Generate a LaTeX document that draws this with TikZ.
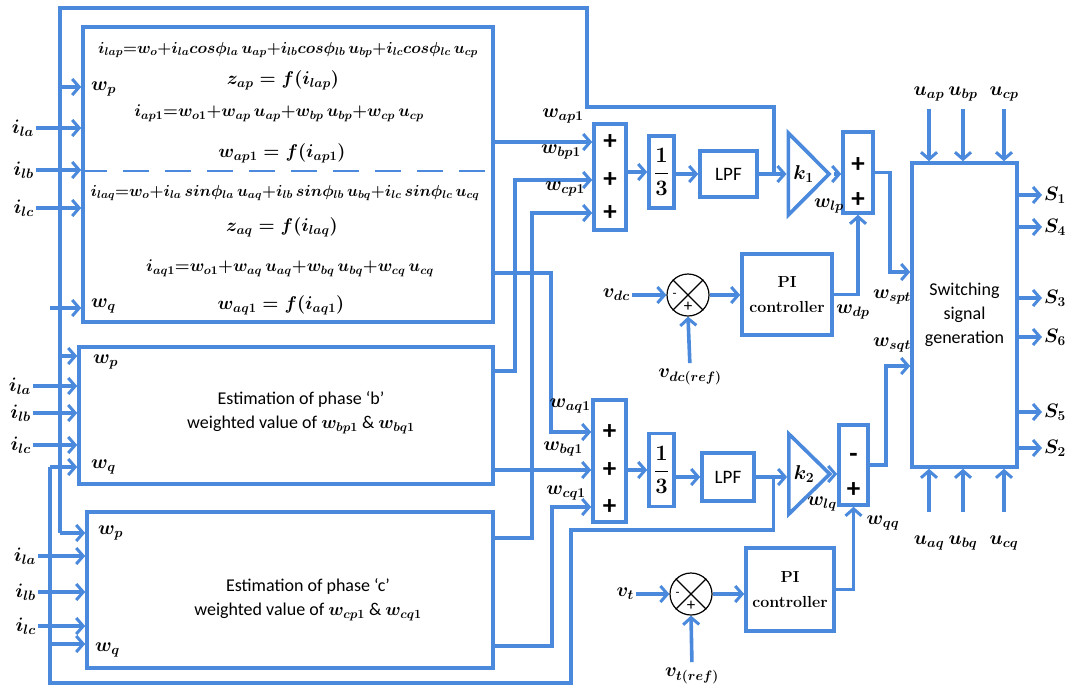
\RequirePackage{fix-cm}
\documentclass[tikz,border=0pt]{standalone}
\usepackage{amsmath}
\usepackage{fontspec}
\setsansfont{Carlito}
\usepackage{tikz}
\usetikzlibrary{calc,arrows.meta,positioning,shapes.geometric}
\definecolor{lblue}{HTML}{4A89DC}
\tikzset{
  wire/.style={draw=lblue,line width=3.6pt},
  ar/.style={wire,-{Straight Barb[length=7pt,width=16pt,line width=3pt]}},
  blk/.style={draw=lblue,line width=3.6pt,inner sep=0pt},
  eq/.style={font=\fontsize{16}{19}\selectfont\boldmath,inner sep=1pt},
  eqm/.style={font=\fontsize{17}{20}\selectfont\boldmath,inner sep=1pt},
  eqb/.style={font=\fontsize{18.5}{21}\selectfont\boldmath,inner sep=1pt},
  lbl/.style={font=\fontsize{19.5}{22}\selectfont\boldmath,inner sep=2pt},
  txt/.style={font=\sffamily\fontsize{18}{24}\selectfont,align=center},
  sgn/.style={font=\sffamily\bfseries\fontsize{27}{27}\selectfont,inner sep=0pt},
  frc/.style={blk,font=\fontsize{22}{24}\selectfont\boldmath},
  pibox/.style={blk,font=\rmfamily\bfseries\fontsize{16}{25}\selectfont,align=center},
  amp/.style={blk,isosceles triangle,isosceles triangle stretches,font=\fontsize{20}{22}\selectfont\boldmath},
  summer/.style={circle,draw=black,line width=1.2pt,minimum size=42pt,inner sep=0pt}
}
\begin{document}
\begin{tikzpicture}[x=1pt,y=-1pt]
\useasboundingbox (0,0) rectangle (1072,689);

% estimation blocks
\node[blk,minimum width=410pt,minimum height=295pt] (boxA) at (288,174.5) {};
\node[blk,minimum width=414pt,minimum height=137pt] (boxB) at (286,415.5) {};
\node[blk,minimum width=406pt,minimum height=156pt] (boxC) at (290,590) {};
\draw[lblue,line width=2pt,dash pattern=on 26pt off 16pt] (boxA.west |- 0,171) -- (boxA.east |- 0,171);

\node[eq] (eqA1) at (288,50) {$i_{lap}{=}w_o{+}i_{la}cos\phi_{la}\,u_{ap}{+}i_{lb}cos\phi_{lb}\,u_{bp}{+}i_{lc}cos\phi_{lc}\,u_{cp}$};
\node[eqb] (eqA2) at (283,80) {$z_{ap}=f(i_{lap})$};
\node[eqm] (eqA3) at (279,113) {$i_{ap1}{=}w_{o1}{+}w_{ap}\,u_{ap}{+}w_{bp}\,u_{bp}{+}w_{cp}\,u_{cp}$};
\node[eqb] (eqA4) at (282,153) {$w_{ap1}=f(i_{ap1})$};
\node[eq] (eqA5) at (285,193) {$i_{laq}{=}w_o{+}i_{la}\,sin\phi_{la}\,u_{aq}{+}i_{lb}\,sin\phi_{lb}\,u_{bq}{+}i_{lc}\,sin\phi_{lc}\,u_{cq}$};
\node[eqb] (eqA6) at (282,227) {$z_{aq}=f(i_{laq})$};
\node[eqm] (eqA7) at (290,268) {$i_{aq1}{=}w_{o1}{+}w_{aq}\,u_{aq}{+}w_{bq}\,u_{bq}{+}w_{cq}\,u_{cq}$};
\node[eqb] (eqA8) at (281,305) {$w_{aq1}=f(i_{aq1})$};

\node[txt] (estB) at (301,413) {Estimation of phase ‘b’\\weighted value of $\boldsymbol{w_{bp1}}$ \& $\boldsymbol{w_{bq1}}$};
\node[txt] (estC) at (308,600) {Estimation of phase ‘c’\\weighted value of $\boldsymbol{w_{cp1}}$ \& $\boldsymbol{w_{cq1}}$};

\node[lbl,anchor=west] (wpA) at (89,89) {$w_p$};
\node[lbl,anchor=west] (wqA) at (89,306) {$w_q$};
\node[lbl,anchor=west] (wpB) at (91,362) {$w_p$};
\node[lbl,anchor=west] (wqB) at (89,467) {$w_q$};
\node[lbl,anchor=west] (wpC) at (96,533) {$w_p$};
\node[lbl,anchor=west] (wqC) at (93,650) {$w_q$};

% load currents
\foreach \bx/\ya/\yb/\yc/\xs in {boxA/128/170/208/36,boxB/386/413/445/33,boxC/556/592/626/38}{
  \node[lbl,anchor=east] (ila\bx) at (\xs,\ya) {$i_{la}$};
  \node[lbl,anchor=east] (ilb\bx) at (\xs,\yb) {$i_{lb}$};
  \node[lbl,anchor=east] (ilc\bx) at (\xs,\yc) {$i_{lc}$};
  \foreach \s in {ila,ilb,ilc}
    \draw[ar] (\s\bx.east) -- (\s\bx.east -| \bx.west);
}

% p chain
\node[blk,minimum width=32pt,minimum height=106pt] (sum1) at (610,177) {};
\foreach \yy [count=\n] in {142,180,213} \node[sgn] (p1\n) at (sum1 |- 0,\yy) {+};
\node[frc,minimum width=25pt,minimum height=72pt] (thr1) at (661.5,172) {$\dfrac{1}{3}$};
\node[blk,minimum width=57pt,minimum height=46pt,font=\sffamily\fontsize{19}{20}\selectfont] (lpf1) at (728.5,174) {LPF};
\node[amp,minimum width=82pt,minimum height=37pt] (k1) at (803.5,174) {$k_1$};
\node[blk,minimum width=30pt,minimum height=81pt] (sum3) at (858,172.5) {};
\foreach \yy [count=\n] in {165,200} \node[sgn] (p3\n) at (sum3 |- 0,\yy) {+};
\node[pibox,minimum width=90pt,minimum height=81pt] (pi1) at (787,294.5) {PI\\controller};
\node[summer] (cs1) at (688,295) {};

% q chain
\node[blk,minimum width=33pt,minimum height=122pt] (sum2) at (609.5,461) {};
\foreach \yy [count=\n] in {432,470,507} \node[sgn] (p2\n) at (sum2 |- 0,\yy) {+};
\node[frc,minimum width=25pt,minimum height=73pt] (thr2) at (661.5,470) {$\dfrac{1}{3}$};
\node[blk,minimum width=52pt,minimum height=48pt,font=\sffamily\fontsize{19}{20}\selectfont] (lpf2) at (728,477) {LPF};
\node[amp,minimum width=80pt,minimum height=36pt] (k2) at (804,474) {$k_2$};
\node[blk,minimum width=29pt,minimum height=80pt] (sum4) at (853.5,465) {};
\node[sgn] (m41) at (sum4 |- 0,458) {-};
\node[sgn] (p42) at (sum4 |- 0,490) {+};
\node[pibox,minimum width=88pt,minimum height=83pt] (pi2) at (790,589.5) {PI\\controller};
\node[summer] (cs2) at (691,594) {};

\foreach \c in {cs1,cs2}{
  \draw[line width=1.2pt] (\c.north west) -- (\c.south east) (\c.north east) -- (\c.south west);
  \node[font=\sffamily\fontsize{13}{13}\selectfont,inner sep=0pt] (\c m) at ($(\c.center)!0.62!(\c.west)$) {-};
  \node[font=\sffamily\fontsize{17}{17}\selectfont,inner sep=0pt] (\c p) at ($(\c.center)!0.55!(\c.south)$) {+};
}

% switching block
\node[blk,txt,minimum width=105pt,minimum height=304pt] (sw) at (964.5,315) {Switching\\signal\\generation};
\foreach \xx/\ph [count=\n] in {929/a,963/b,1004/c}{
  \node[lbl] (up\n) at (\xx,94) {$u_{\ph p}$};
  \draw[ar,shorten <=6pt] (up\n.south) -- (up\n.south |- sw.north);
  \node[lbl] (uq\n) at (\xx,543) {$u_{\ph q}$};
  \draw[ar,shorten <=22pt] (uq\n.north) -- (uq\n.north |- sw.south);
}
\foreach \yy/\sn in {195/1,227/4,298/3,337/6,412/5,448/2}{
  \node[lbl,anchor=west] (S\sn) at (1042,\yy) {$S_{\sn}$};
  \draw[ar] (sw.east |- S\sn) -- (S\sn.west);
}

% connections p
\draw[ar] (sum1.east |- thr1) -- (thr1.west);
\draw[ar] (thr1.east |- lpf1) -- (lpf1.west);
\draw[ar] (lpf1.east) -- (k1.west);
\coordinate (jp) at ($(lpf1.east)!0.54!(k1.west)$);
\draw[ar] (k1.east) -- (k1.east -| sum3.west);
\coordinate (spt) at (890,272);
\draw[ar] (sum3.east) -| (spt) -- (spt -| sw.west);
\draw[ar] (pi1.east) -| (sum3.south);
\draw[ar] (cs1.east) -- (cs1.east -| pi1.west);
\node[lbl,anchor=east] (vdc) at (632,295) {$v_{dc}$};
\draw[ar] (vdc.east) -- (cs1.west);
\node[lbl] (vdcr) at (690,377) {$v_{dc(ref)}$};
\draw[ar,shorten <=4pt] (vdcr.north) -- (cs1.south);

% connections q
\draw[ar] (sum2.east |- thr2) -- (thr2.west);
\draw[ar] (thr2.east |- lpf2) -- (lpf2.west);
\draw[ar] (lpf2.east) -- (lpf2.east -| k2.west);
\coordinate (jq) at ($(lpf2.east)!0.56!(lpf2.east -| k2.west)$);
\draw[ar] (k2.east) -- (k2.east -| sum4.west);
\coordinate (sqt) at (886,366);
\draw[ar] (sum4.east) -| (sqt) -- (sqt -| sw.west);
\draw[ar] (pi2.east) -| (sum4.south);
\draw[ar] (cs2.east) -- (cs2.east -| pi2.west);
\node[lbl,anchor=east] (vt) at (636,594) {$v_t$};
\draw[ar] (vt.east) -- (cs2.west);
\node[lbl] (vtr) at (692,676) {$v_{t(ref)}$};
\draw[ar,shorten <=4pt] (vtr.north) -- (cs2.south);

% block outputs
\coordinate (bpx) at (515,371);
\coordinate (cpx) at (532,538);
\coordinate (aqx) at (551,273);
\coordinate (cqx) at (552,646);
\draw[ar] (boxA.east |- p11) -- (sum1.west |- p11);
\draw[ar] (boxB.east |- bpx) -- (bpx) |- (sum1.west |- p12);
\draw[ar] (boxC.east |- cpx) -- (cpx) |- (sum1.west |- p13);
\draw[ar] (boxA.east |- aqx) -- (aqx) |- (sum2.west |- p21);
\draw[ar] (boxB.east |- p22) -- (sum2.west |- p22);
\draw[ar] (boxC.east |- cqx) -- (cqx) |- (sum2.west |- p23);

% feedback loops
\coordinate (tpA) at (60,87);
\coordinate (tpB) at (60,356);
\coordinate (tpC) at (60,533);
\coordinate (tqA) at (50,308);
\coordinate (tqB) at (50,467);
\coordinate (tqC) at (50,644);
\draw[wire] (jp) |- (587,107) |- (60,8) -- (tpC);
\draw[wire] (jq) |- (571,530) |- (50,683) -- (tqB);
\foreach \t/\b in {tpA/boxA,tpB/boxB,tpC/boxC,tqA/boxA,tqB/boxB,tqC/boxC}
  \draw[ar] (\t) -- (\t -| \b.west);

% signal labels
\node[lbl] (lap1) at (563,116) {$w_{ap1}$};
\node[lbl] (lbp1) at (561,152) {$w_{bp1}$};
\node[lbl] (lcp1) at (565,189) {$w_{cp1}$};
\node[lbl] (laq1) at (570,406) {$w_{aq1}$};
\node[lbl] (lbq1) at (563,449) {$w_{bq1}$};
\node[lbl] (lcq1) at (566,493) {$w_{cq1}$};
\node[lbl] (llp) at (829,206) {$w_{lp}$};
\node[lbl] (ldp) at (853,312) {$w_{dp}$};
\node[lbl] (lspt) at (892,297) {$w_{spt}$};
\node[lbl] (lsqt) at (892,345) {$w_{sqt}$};
\node[lbl] (llq) at (822,504) {$w_{lq}$};
\node[lbl] (lqq) at (883,523) {$w_{qq}$};
\end{tikzpicture}
\end{document}
